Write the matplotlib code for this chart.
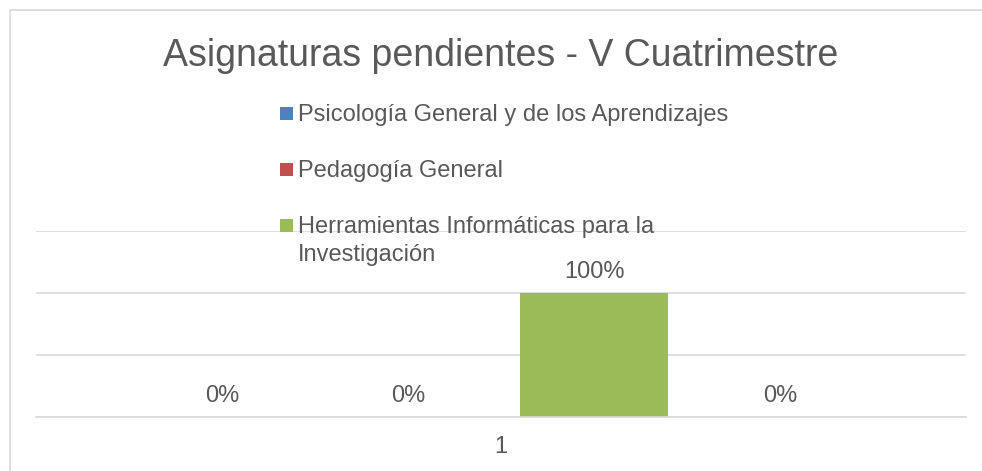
import matplotlib.pyplot as plt
from matplotlib.patches import Rectangle
from matplotlib.ticker import MultipleLocator

plt.rcParams["font.family"] = ["Liberation Sans", "DejaVu Sans"]

TEXT = "#595959"
GRID = "#D9D9D9"

categories = ["1"]
series_names = [
    "Psicología General y de los Aprendizajes",
    "Pedagogía General",
    "Herramientas Informáticas para la\nInvestigación",
    "Serie 4",
]
series_values = [0.0, 0.0, 1.0, 0.0]
series_colors = ["#4F81BD", "#C0504D", "#9BBB59", "#8064A2"]

W, H = 982, 471
fig = plt.figure(figsize=(W / 100, H / 100), dpi=100)
fig.patch.set_facecolor("white")


def fx(px):
    return px / W


def fy(py):
    return 1 - py / H


# chart border (right and bottom run off the picture)
fig.add_artist(Rectangle((fx(10), -0.1), 1.2, fy(10) + 0.1,
                         transform=fig.transFigure, fill=False,
                         edgecolor=GRID, lw=1.2))

ax = fig.add_axes([fx(36), 54 / H, 930 / W, 186 / H])
ax.set_xlim(-0.5, 0.5)
ax.set_ylim(0, 1.5)
ax.yaxis.set_major_locator(MultipleLocator(0.5))
ax.grid(axis="y", color=GRID, lw=1.2)
ax.set_axisbelow(True)
for side in ["top", "right", "left"]:
    ax.spines[side].set_visible(False)
ax.spines["bottom"].set_color(GRID)
ax.spines["bottom"].set_linewidth(1.2)
ax.set_yticklabels([])
ax.tick_params(axis="y", length=0)

step = 0.2
width = 0.16
n = len(series_values)
for i, (name, val, col) in enumerate(zip(series_names, series_values, series_colors)):
    x = (i - (n - 1) / 2) * step
    b = ax.bar([x], [val], width=width, color=col, label=name)
    ax.bar_label(b, labels=[f"{val:.0%}"], padding=7, fontsize=17, color=TEXT)

ax.set_xticks([0])
ax.set_xticklabels(categories)
ax.tick_params(axis="x", length=0, labelsize=17, labelcolor=TEXT, pad=14)

fig.text(fx(501), fy(56), "Asignaturas pendientes - V Cuatrimestre",
         ha="center", va="center", fontsize=27, color=TEXT)

# legend (Excel shows only the first three series, marker at first line)
row_y = [113, 169, 225]
for name, col, ry in zip(series_names[:3], series_colors[:3], row_y):
    fig.add_artist(Rectangle((fx(280), fy(ry + 6.5)), 13 / W, 13 / H,
                             transform=fig.transFigure, color=col, lw=0))
    for k, line in enumerate(name.split("\n")):
        fig.text(fx(298), fy(ry + 2 + 28 * k), line, ha="left",
                 va="center", fontsize=17, color=TEXT)

plt.savefig("out.png", dpi=100, facecolor="white")
